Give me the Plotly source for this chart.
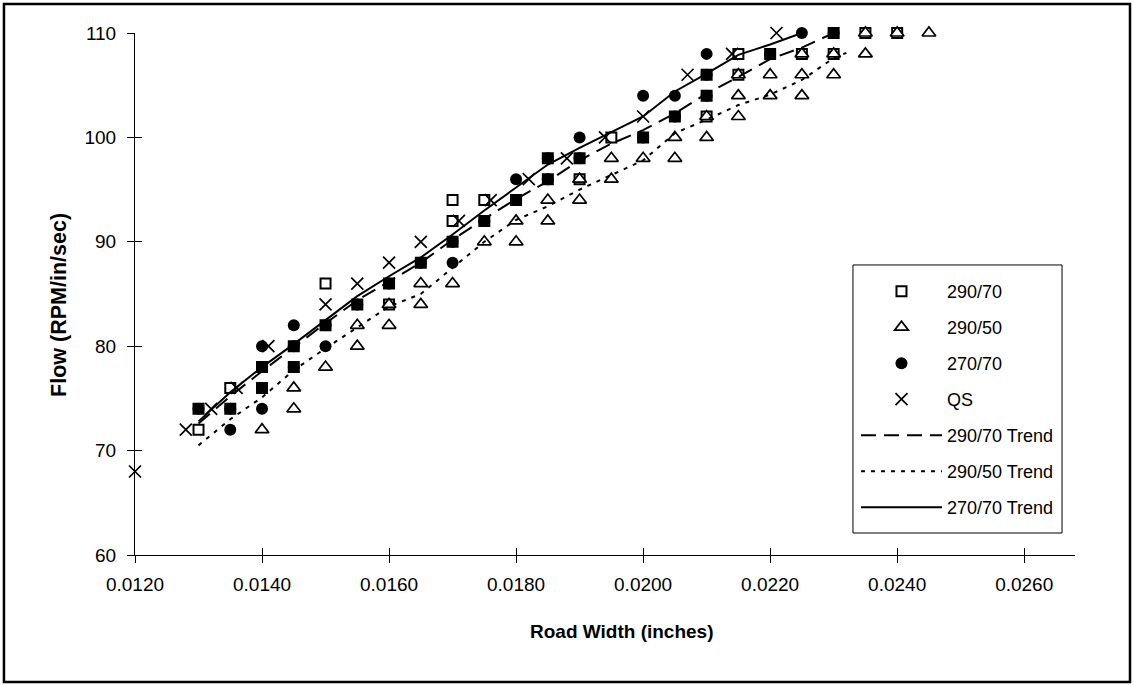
import plotly.graph_objects as go

# ---- measurements -------------------------------------------------------
# 290/70 series
x_290_70 = [0.0130, 0.0130, 0.0135, 0.0135, 0.0140, 0.0140, 0.0145, 0.0145,
            0.0150, 0.0150, 0.0155, 0.0160, 0.0160, 0.0165, 0.0170, 0.0170,
            0.0170, 0.0175, 0.0175, 0.0180, 0.0185, 0.0185, 0.0190, 0.0190,
            0.0195, 0.0200, 0.0205, 0.0210, 0.0210, 0.0210, 0.0215, 0.0215,
            0.0220, 0.0225, 0.0230, 0.0230, 0.0235, 0.0240]
y_290_70 = [74, 72, 74, 76, 78, 76, 80, 78,
            86, 82, 84, 86, 84, 88, 94, 92,
            90, 94, 92, 94, 98, 96, 98, 96,
            100, 100, 102, 106, 104, 102, 108, 106,
            108, 108, 110, 108, 110, 110]

# 290/50 series
x_290_50 = [0.0140, 0.0145, 0.0145, 0.0150, 0.0155, 0.0155, 0.0160, 0.0160,
            0.0165, 0.0165, 0.0170, 0.0175, 0.0180, 0.0180, 0.0185, 0.0185,
            0.0190, 0.0190, 0.0195, 0.0195, 0.0200, 0.0205, 0.0205, 0.0210,
            0.0210, 0.0215, 0.0215, 0.0215, 0.0220, 0.0220, 0.0225, 0.0225,
            0.0225, 0.0230, 0.0230, 0.0235, 0.0235, 0.0240, 0.0245]
y_290_50 = [72, 76, 74, 78, 82, 80, 84, 82,
            86, 84, 86, 90, 92, 90, 94, 92,
            96, 94, 98, 96, 98, 100, 98, 102,
            100, 106, 104, 102, 106, 104, 108, 106,
            104, 108, 106, 110, 108, 110, 110]

# 270/70 series
x_270_70 = [0.0130, 0.0135, 0.0135, 0.0140, 0.0140, 0.0140, 0.0140, 0.0145,
            0.0145, 0.0145, 0.0150, 0.0150, 0.0155, 0.0160, 0.0165, 0.0170,
            0.0170, 0.0175, 0.0180, 0.0180, 0.0185, 0.0185, 0.0190, 0.0190,
            0.0200, 0.0200, 0.0205, 0.0205, 0.0210, 0.0210, 0.0210, 0.0220,
            0.0225, 0.0230]
y_270_70 = [74, 74, 72, 80, 78, 76, 74, 82,
            80, 78, 82, 80, 84, 86, 88, 90,
            88, 92, 96, 94, 98, 96, 100, 98,
            104, 100, 104, 102, 108, 106, 104, 108,
            110, 110]

# QS series
x_qs = [0.0120, 0.0128, 0.0132, 0.0136, 0.0141, 0.0150, 0.0155, 0.0160,
        0.0165, 0.0171, 0.0176, 0.0182, 0.0188, 0.0194, 0.0200, 0.0207,
        0.0214, 0.0221]
y_qs = [68, 72, 74, 76, 80, 84, 86, 88,
        90, 92, 94, 96, 98, 100, 102, 106,
        108, 110]

# trend curves
x_trend_290_70 = [0.0130, 0.0135, 0.0140, 0.0145, 0.0150, 0.0155, 0.0160,
                  0.0165, 0.0170, 0.0175, 0.0180, 0.0185, 0.0190, 0.0195,
                  0.0200, 0.0205, 0.0210, 0.0215, 0.0220, 0.0225, 0.0230]
y_trend_290_70 = [72.6, 75.2, 77.6, 79.9, 82.2, 84.4, 86.2,
                  88.0, 90.2, 92.2, 94.1, 95.8, 97.8, 99.4,
                  100.7, 102.3, 104.2, 105.8, 107.5, 108.6, 110.0]

x_trend_290_50 = [0.0130, 0.0135, 0.0140, 0.0145, 0.0150, 0.0155, 0.0160,
                  0.0165, 0.0170, 0.0175, 0.0180, 0.0185, 0.0190, 0.0195,
                  0.0200, 0.0205, 0.0210, 0.0215, 0.0220, 0.0225, 0.0230,
                  0.0232]
y_trend_290_50 = [70.5, 73.0, 75.1, 77.7, 79.8, 81.8, 83.8,
                  85.0, 87.5, 90.0, 92.1, 93.4, 95.0, 96.4,
                  97.8, 100.4, 101.7, 103.1, 104.1, 105.5, 107.6,
                  108.1]

x_trend_270_70 = [0.0130, 0.0135, 0.0140, 0.0145, 0.0150, 0.0155, 0.0160,
                  0.0165, 0.0170, 0.0175, 0.0180, 0.0185, 0.0190, 0.0195,
                  0.0200, 0.0205, 0.0210, 0.0215, 0.0220, 0.0225]
y_trend_270_70 = [72.8, 75.6, 78.0, 80.2, 82.5, 84.8, 86.7,
                  88.5, 90.7, 93.0, 95.2, 97.4, 99.0, 100.5,
                  102.0, 104.4, 106.1, 107.9, 108.9, 110.0]

x_ticks = [0.0120, 0.0140, 0.0160, 0.0180, 0.0200, 0.0220, 0.0240, 0.0260]
y_ticks = [60, 70, 80, 90, 100, 110]

FONT = "Liberation Sans, Arial, sans-serif"

fig = go.Figure()

fig.add_trace(go.Scatter(
    x=x_290_70, y=y_290_70, mode="markers", name="290/70", cliponaxis=False,
    marker=dict(symbol="square", size=10, color="white",
                line=dict(color="black", width=2)),
    legendgroup="a"))
fig.add_trace(go.Scatter(
    x=x_290_50, y=y_290_50, mode="markers", name="290/50", cliponaxis=False,
    marker=dict(symbol="triangle-up", size=12, color="white",
                line=dict(color="black", width=1.7)),
    legendgroup="b"))
fig.add_trace(go.Scatter(
    x=x_270_70, y=y_270_70, mode="markers", name="270/70", cliponaxis=False,
    marker=dict(symbol="circle", size=12, color="black",
                line=dict(color="black", width=0)),
    legendgroup="c"))
fig.add_trace(go.Scatter(
    x=x_qs, y=y_qs, mode="markers", name="QS", cliponaxis=False,
    marker=dict(symbol="x-thin-open", size=12, color="black",
                line=dict(color="black", width=1.7)),
    legendgroup="d"))
fig.add_trace(go.Scatter(
    x=x_trend_290_70, y=y_trend_290_70, mode="lines", name="290/70 Trend",
    line=dict(color="black", width=2, dash="15px,8px"),
    legendgroup="e"))
fig.add_trace(go.Scatter(
    x=x_trend_290_50, y=y_trend_290_50, mode="lines", name="290/50 Trend",
    line=dict(color="black", width=2, dash="4px,6px"),
    legendgroup="f"))
fig.add_trace(go.Scatter(
    x=x_trend_270_70, y=y_trend_270_70, mode="lines", name="270/70 Trend",
    line=dict(color="black", width=2),
    legendgroup="g"))
# empty trace that binds the companion axes (inner half of the cross ticks)
fig.add_trace(go.Scatter(x=[], y=[], xaxis="x2", yaxis="y2",
                         showlegend=False, hoverinfo="skip"))

axis_common = dict(showgrid=False, zeroline=False, showline=True,
                   linecolor="black", linewidth=1, ticks="outside",
                   ticklen=7, tickcolor="black", tickwidth=1,
                   tickfont=dict(family=FONT, size=19, color="black"))

fig.update_layout(
    width=1134, height=685,
    margin=dict(l=135, r=59, t=33, b=130),
    paper_bgcolor="white", plot_bgcolor="white",
    showlegend=True,
    xaxis=dict(range=[0.0120, 0.0268], tickvals=x_ticks, tickformat=".4f",
               ticklabelstandoff=5, **axis_common),
    yaxis=dict(range=[60, 110], tickvals=y_ticks, ticklabelstandoff=7,
               **axis_common),
    xaxis2=dict(overlaying="x", matches="x", anchor="y", side="bottom",
                showgrid=False, zeroline=False, showline=False,
                tickvals=x_ticks, ticks="inside", ticklen=7,
                tickcolor="black", showticklabels=False),
    yaxis2=dict(overlaying="y", matches="y", anchor="x", side="left",
                showgrid=False, zeroline=False, showline=False,
                tickvals=y_ticks, ticks="inside", ticklen=7,
                tickcolor="black", showticklabels=False),
    legend=dict(x=0.767, y=0.5402, xanchor="left", yanchor="top",
                bgcolor="rgba(0,0,0,0)", borderwidth=0,
                itemwidth=81, tracegroupgap=9.6, traceorder="grouped",
                font=dict(family=FONT, size=18, color="black")),
    annotations=[
        dict(text="<b>Road Width (inches)</b>", xref="paper", yref="paper",
             x=0.518, y=-0.1475, xanchor="center", yanchor="middle",
             showarrow=False, font=dict(family=FONT, size=19, color="black")),
        dict(text="<b>Flow (RPM/in/sec)</b>", xref="paper", yref="paper",
             x=-0.0809, y=0.479, xanchor="center", yanchor="middle",
             textangle=-90, showarrow=False,
             font=dict(family=FONT, size=21.5, color="black")),
    ],
    shapes=[
        # chart frame
        dict(type="rect", xref="paper", yref="paper",
             x0=-0.1394, x1=1.0585, y0=-0.2433, y1=1.0556,
             line=dict(color="black", width=2.5), layer="below"),
        # legend box
        dict(type="rect", xref="paper", yref="paper",
             x0=0.7638, x1=0.9862, y0=0.04215, y1=0.5556,
             line=dict(color="black", width=1), fillcolor="white",
             layer="above"),
    ],
)

fig.write_html("out.html")
